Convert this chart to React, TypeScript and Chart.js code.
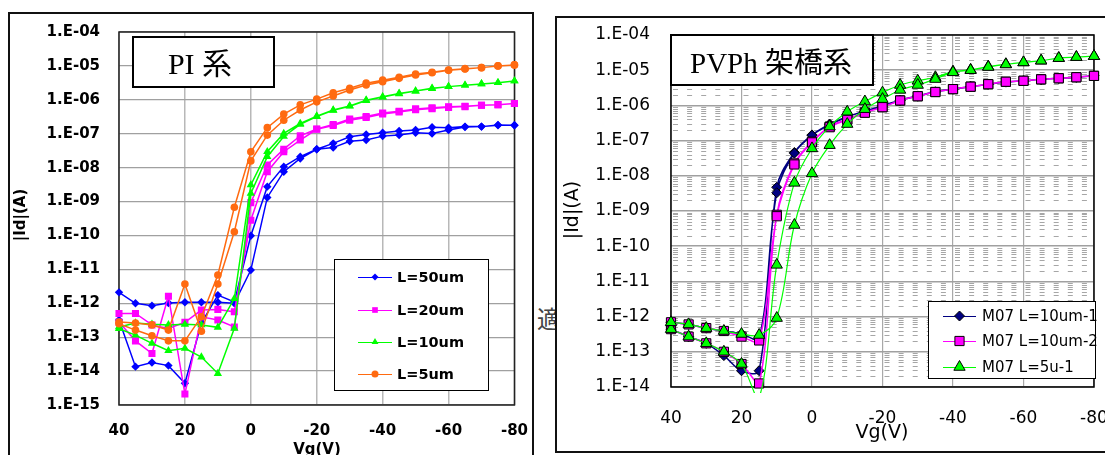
import React, { useEffect, useRef } from "react";
import { Chart, registerables } from "chart.js";

Chart.register(...registerables);

// ---------- shared gate-voltage sweep (V) ----------
const vgSweep = [40, 35, 30, 25, 20, 15, 10, 5, 0, -5, -10, -15, -20, -25, -30, -35, -40, -45, -50, -55, -60, -65, -70, -75, -80];
const xTickValues = [40, 20, 0, -20, -40, -60, -80];

// ---------- left chart: PI 系 ----------
const piTitle = "PI 系";
const piSeriesLabels = ["L=50um", "L=20um", "L=10um", "L=5um"];
const piYTicks = [1e-4, 1e-5, 1e-6, 1e-7, 1e-8, 1e-9, 1e-10, 1e-11, 1e-12, 1e-13, 1e-14, 1e-15];
const piYTickLabels = ["1.E-04", "1.E-05", "1.E-06", "1.E-07", "1.E-08", "1.E-09", "1.E-10", "1.E-11", "1.E-12", "1.E-13", "1.E-14", "1.E-15"];

// each series: sweep A (40 -> -80) and sweep B (back, listed 40 -> -80)
const pi50A = [2.1e-12, 1.0e-12, 8.5e-13, 1.02e-12, 1.07e-12, 1.07e-12, 1.07e-12, 1.0e-12, 9.5e-12, 1.32e-9, 7.6e-9, 1.86e-8, 3.47e-8, 3.9e-8, 6.0e-8, 6.5e-8, 8.5e-8, 9.1e-8, 1.07e-7, 1.02e-7, 1.29e-7, 1.58e-7, 1.62e-7, 1.78e-7, 1.78e-7];
const pi50B = [3.2e-13, 1.35e-14, 1.8e-14, 1.45e-14, 4.4e-15, 2.6e-13, 1.74e-12, 1.1e-12, 9.8e-11, 2.75e-9, 1.07e-8, 2.1e-8, 3.47e-8, 5.2e-8, 8.1e-8, 9.5e-8, 1.07e-7, 1.2e-7, 1.29e-7, 1.55e-7, 1.51e-7, 1.62e-7, 1.62e-7, 1.82e-7, 1.78e-7];
const pi20A = [5.0e-13, 5.0e-13, 2.3e-13, 1.8e-13, 2.75e-13, 6.3e-13, 6.6e-13, 5.6e-13, 2.8e-10, 7.6e-9, 2.95e-8, 6.5e-8, 1.35e-7, 1.74e-7, 2.5e-7, 3.0e-7, 3.8e-7, 4.4e-7, 5.1e-7, 5.5e-7, 6.0e-7, 6.3e-7, 6.9e-7, 7.2e-7, 7.8e-7];
const pi20B = [2.8e-13, 7.8e-14, 3.3e-14, 1.62e-12, 2.1e-15, 4.0e-13, 3.2e-13, 2.0e-13, 9.3e-10, 1.2e-8, 3.5e-8, 8.7e-8, 1.38e-7, 1.86e-7, 2.7e-7, 3.2e-7, 4.1e-7, 4.6e-7, 5.4e-7, 5.8e-7, 6.2e-7, 6.5e-7, 6.9e-7, 7.2e-7, 7.8e-7];
const pi10A = [2.0e-13, 2.6e-13, 2.4e-13, 2.3e-13, 2.4e-13, 2.3e-13, 1.95e-13, 1.38e-12, 3.1e-9, 2.95e-8, 1.02e-7, 2.0e-7, 3.3e-7, 5.0e-7, 6.6e-7, 9.8e-7, 1.23e-6, 1.55e-6, 1.82e-6, 2.2e-6, 2.45e-6, 2.7e-6, 2.95e-6, 3.2e-6, 3.6e-6];
const pi10B = [1.78e-13, 1.15e-13, 6.6e-14, 4.0e-14, 4.7e-14, 2.6e-14, 8.5e-15, 1.82e-13, 1.74e-9, 2.1e-8, 8.3e-8, 1.9e-7, 3.2e-7, 4.9e-7, 6.5e-7, 9.5e-7, 1.2e-6, 1.5e-6, 1.82e-6, 2.15e-6, 2.45e-6, 2.7e-6, 2.95e-6, 3.2e-6, 3.6e-6];
const pi5A = [2.8e-13, 2.6e-13, 2.3e-13, 1.62e-13, 3.7e-12, 1.5e-13, 3.7e-12, 1.29e-10, 1.58e-8, 9.1e-8, 2.5e-7, 5.0e-7, 8.7e-7, 1.29e-6, 1.95e-6, 2.75e-6, 3.4e-6, 4.3e-6, 5.4e-6, 6.3e-6, 7.4e-6, 8.1e-6, 8.9e-6, 1.0e-5, 1.07e-5];
const pi5B = [2.5e-13, 1.62e-13, 1.1e-13, 7.8e-14, 7.8e-14, 4.0e-13, 6.8e-12, 6.8e-10, 2.95e-8, 1.51e-7, 3.8e-7, 7.1e-7, 1.05e-6, 1.62e-6, 2.2e-6, 3.1e-6, 3.8e-6, 4.6e-6, 5.8e-6, 6.5e-6, 7.6e-6, 8.3e-6, 8.9e-6, 1.0e-5, 1.07e-5];

// ---------- right chart: PVPh 架橋系 ----------
const pvTitle = "PVPh 架橋系";
const pvSeriesLabels = ["M07 L=10um-1", "M07 L=10um-2", "M07 L=5u-1"];
const pvYTicks = [1e-4, 1e-5, 1e-6, 1e-7, 1e-8, 1e-9, 1e-10, 1e-11, 1e-12, 1e-13, 1e-14];
const pvYTickLabels = ["1.E-04", "1.E-05", "1.E-06", "1.E-07", "1.E-08", "1.E-09", "1.E-10", "1.E-11", "1.E-12", "1.E-13", "1.E-14"];

const pv10aA = [4.4e-13, 2.7e-13, 1.74e-13, 7.8e-14, 2.9e-14, 2.9e-14, 4.7e-9, 4.6e-8, 1.45e-7, 2.95e-7, 4.8e-7, 6.9e-7, 9.8e-7, 1.41e-6, 1.86e-6, 2.45e-6, 2.9e-6, 3.4e-6, 4.0e-6, 4.6e-6, 5.0e-6, 5.5e-6, 5.9e-6, 6.3e-6, 6.9e-6];
const pv10aB = [6.9e-13, 6.0e-13, 4.7e-13, 3.9e-13, 3.2e-13, 2.4e-13, 3.3e-9, 4.4e-8, 1.41e-7, 2.8e-7, 4.7e-7, 6.8e-7, 9.5e-7, 1.38e-6, 1.82e-6, 2.4e-6, 2.9e-6, 3.4e-6, 4.0e-6, 4.6e-6, 5.0e-6, 5.5e-6, 5.9e-6, 6.3e-6, 6.9e-6];
const pv10bA = [4.4e-13, 2.7e-13, 1.74e-13, 1.0e-13, 4.5e-14, 1.26e-14, 7.8e-10, 2.25e-8, 9.3e-8, 2.5e-7, 4.0e-7, 6.3e-7, 8.9e-7, 1.38e-6, 1.82e-6, 2.4e-6, 2.9e-6, 3.4e-6, 4.0e-6, 4.7e-6, 5.0e-6, 5.5e-6, 5.9e-6, 6.3e-6, 6.9e-6];
const pv10bB = [6.9e-13, 6.0e-13, 4.7e-13, 3.9e-13, 2.7e-13, 2.1e-13, 7.1e-10, 2.1e-8, 8.9e-8, 2.4e-7, 3.9e-7, 6.2e-7, 8.9e-7, 1.38e-6, 1.82e-6, 2.4e-6, 2.9e-6, 3.4e-6, 4.0e-6, 4.7e-6, 5.0e-6, 5.5e-6, 5.9e-6, 6.3e-6, 6.9e-6];
const pv5A = [4.4e-13, 2.7e-13, 1.74e-13, 1.0e-13, 4.5e-14, 5.0e-15, 2.95e-11, 6.3e-9, 6.0e-8, 2.5e-7, 6.6e-7, 1.29e-6, 2.3e-6, 3.8e-6, 5.0e-6, 6.3e-6, 9.1e-6, 1.02e-5, 1.26e-5, 1.48e-5, 1.66e-5, 1.86e-5, 2.2e-5, 2.35e-5, 2.5e-5];
const pv5B = [6.9e-13, 6.0e-13, 4.7e-13, 3.9e-13, 3.2e-13, 3.0e-13, 9.1e-13, 4.0e-10, 1.17e-8, 7.4e-8, 2.95e-7, 7.8e-7, 1.51e-6, 2.75e-6, 3.8e-6, 5.6e-6, 8.7e-6, 1.0e-5, 1.23e-5, 1.45e-5, 1.66e-5, 1.86e-5, 2.2e-5, 2.35e-5, 2.5e-5];

// ---------- helpers ----------
function loop(a: number[], b: number[]) {
  const fwd = vgSweep.map((x, i) => ({ x, y: a[i] }));
  const back = vgSweep.map((x, i) => ({ x, y: b[i] })).reverse();
  return fwd.concat(back);
}

function markerPath(ctx: CanvasRenderingContext2D, style: string, x: number, y: number, r: number) {
  ctx.beginPath();
  if (style === "circle") {
    ctx.arc(x, y, r, 0, Math.PI * 2);
  } else if (style === "rect") {
    const s = r * Math.SQRT1_2;
    ctx.rect(x - s, y - s, 2 * s, 2 * s);
  } else if (style === "rectRot") {
    ctx.moveTo(x, y - r);
    ctx.lineTo(x + r, y);
    ctx.lineTo(x, y + r);
    ctx.lineTo(x - r, y);
    ctx.closePath();
  } else if (style === "triangle") {
    let rad = 0;
    ctx.moveTo(x + Math.sin(rad) * r, y - Math.cos(rad) * r);
    rad += (2 * Math.PI) / 3;
    ctx.lineTo(x + Math.sin(rad) * r, y - Math.cos(rad) * r);
    rad += (2 * Math.PI) / 3;
    ctx.lineTo(x + Math.sin(rad) * r, y - Math.cos(rad) * r);
    ctx.closePath();
  }
}

type DecorCfg = {
  id: string;
  minorGrid: boolean;
  title: string;
  titleFont: string;
  titleBox: [number, number, number, number];
  titleX: number;
  titleY: number;
  legendBox: [number, number, number, number];
  legendLineX: [number, number];
  legendTextX: number;
  legendRows: number[];
  legendFont: string;
  legendMarker: number[];
  yTitle: string;
  yTitlePos: [number, number];
  xTitle: string;
  xTitlePos: [number, number];
  axisTitleFont: string;
  frameColor: string;
};

function makeDecor(c: DecorCfg) {
  return {
    id: c.id,
    beforeDatasetsDraw(chart: any) {
      const ctx: CanvasRenderingContext2D = chart.ctx;
      const a = chart.chartArea;
      ctx.save();
      if (c.minorGrid) {
        const ys = chart.scales.y;
        const xs = chart.scales.x;
        const cuts = xTickValues.map((v) => xs.getPixelForValue(v)).sort((p, q) => p - q);
        ctx.strokeStyle = "#a6a6a6";
        ctx.lineWidth = 1;
        ctx.setLineDash([5, 9.1]);
        for (let e = -14; e < -4; e++) {
          for (let m = 2; m <= 9; m++) {
            const y = Math.round(ys.getPixelForValue(m * Math.pow(10, e))) + 0.5;
            for (let k = 0; k < cuts.length - 1; k++) {
              ctx.beginPath();
              ctx.moveTo(cuts[k] + 2, y);
              ctx.lineTo(cuts[k + 1] - 1, y);
              ctx.stroke();
            }
          }
        }
        ctx.setLineDash([]);
      }
      ctx.strokeStyle = c.frameColor;
      ctx.lineWidth = 1.5;
      ctx.strokeRect(a.left, a.top, a.right - a.left, a.bottom - a.top);
      ctx.restore();
    },
    afterDatasetsDraw(chart: any) {
      const ctx: CanvasRenderingContext2D = chart.ctx;
      ctx.save();
      // title box
      const [tx, ty, tw, th] = c.titleBox;
      ctx.fillStyle = "#ffffff";
      ctx.fillRect(tx, ty, tw, th);
      ctx.strokeStyle = "#000000";
      ctx.lineWidth = 2;
      ctx.strokeRect(tx, ty, tw, th);
      ctx.fillStyle = "#000000";
      ctx.font = c.titleFont;
      ctx.textAlign = "center";
      ctx.textBaseline = "alphabetic";
      ctx.fillText(c.title, c.titleX, c.titleY);

      // legend
      const [lx, ly, lw, lh] = c.legendBox;
      ctx.fillStyle = "#ffffff";
      ctx.fillRect(lx, ly, lw, lh);
      ctx.strokeStyle = "#000000";
      ctx.lineWidth = 1;
      ctx.strokeRect(lx + 0.5, ly + 0.5, lw, lh);
      chart.data.datasets.forEach((ds: any, i: number) => {
        const y = c.legendRows[i];
        ctx.strokeStyle = ds.borderColor;
        ctx.lineWidth = 1;
        ctx.beginPath();
        ctx.moveTo(c.legendLineX[0], y + 0.5);
        ctx.lineTo(c.legendLineX[1], y + 0.5);
        ctx.stroke();
        const mx = (c.legendLineX[0] + c.legendLineX[1]) / 2;
        markerPath(ctx, ds.pointStyle, mx, y, c.legendMarker[i]);
        ctx.fillStyle = ds.backgroundColor;
        ctx.fill();
        if (ds.pointBorderWidth > 0) {
          ctx.lineWidth = ds.pointBorderWidth;
          ctx.strokeStyle = ds.pointBorderColor;
          ctx.stroke();
        }
        ctx.fillStyle = "#000000";
        ctx.font = c.legendFont;
        ctx.textAlign = "left";
        ctx.textBaseline = "middle";
        ctx.fillText(ds.label, c.legendTextX, y + 1);
      });

      // axis titles
      ctx.fillStyle = "#000000";
      ctx.font = c.axisTitleFont;
      ctx.save();
      ctx.translate(c.yTitlePos[0], c.yTitlePos[1]);
      ctx.rotate(-Math.PI / 2);
      ctx.textAlign = "center";
      ctx.textBaseline = "middle";
      ctx.fillText(c.yTitle, 0, 0);
      ctx.restore();
      ctx.textAlign = "center";
      ctx.textBaseline = "alphabetic";
      ctx.fillText(c.xTitle, c.xTitlePos[0], c.xTitlePos[1]);
      ctx.restore();
    },
  };
}

const clipBox = { left: 10, top: 10, right: 10, bottom: 6 };

function leftConfig(): any {
  const common = { borderWidth: 1.5, tension: 0, pointBorderWidth: 0, pointBorderColor: "transparent", clip: clipBox };
  return {
    type: "line",
    data: {
      datasets: [
        { ...common, label: piSeriesLabels[0], data: loop(pi50A, pi50B), borderColor: "#0000FF", backgroundColor: "#0000FF", pointStyle: "rectRot", pointRadius: 4.2, order: 4 },
        { ...common, label: piSeriesLabels[1], data: loop(pi20A, pi20B), borderColor: "#FF00FF", backgroundColor: "#FF00FF", pointStyle: "rect", pointRadius: 5, order: 3 },
        { ...common, label: piSeriesLabels[2], data: loop(pi10A, pi10B), borderColor: "#00FF00", backgroundColor: "#00FF00", pointStyle: "triangle", pointRadius: 4.8, order: 2 },
        { ...common, label: piSeriesLabels[3], data: loop(pi5A, pi5B), borderColor: "#FF6A10", backgroundColor: "#FF6A10", pointStyle: "circle", pointRadius: 3.8, order: 1 },
      ],
    },
    options: {
      responsive: false,
      animation: false,
      layout: { padding: { left: 0, top: 32, right: 29, bottom: 0 } },
      plugins: { legend: { display: false }, tooltip: { enabled: false } },
      scales: {
        x: {
          type: "linear",
          reverse: true,
          min: -80,
          max: 40,
          afterBuildTicks: (s: any) => { s.ticks = xTickValues.map((v) => ({ value: v })); },
          afterFit: (s: any) => { s.height = 50; },
          ticks: { autoSkip: false, maxRotation: 0, padding: 17, color: "#000", font: { family: "DejaVu Sans", weight: "bold", size: 15 }, callback: (v: any) => String(v) },
          grid: { color: "#b8b8b8", lineWidth: 1.5, drawTicks: false },
          border: { display: false },
        },
        y: {
          type: "logarithmic",
          min: 1e-15,
          max: 1e-4,
          afterBuildTicks: (s: any) => { s.ticks = piYTicks.map((v) => ({ value: v })); },
          afterFit: (s: any) => { s.width = 119; },
          ticks: { autoSkip: false, padding: 19, color: "#000", font: { family: "DejaVu Sans", weight: "bold", size: 15 }, callback: (_v: any, i: number) => piYTickLabels[i] },
          grid: { color: "#a0a0a0", lineWidth: 1.2, drawTicks: false },
          border: { display: false },
        },
      },
    },
    plugins: [
      makeDecor({
        id: "piDecor",
        minorGrid: false,
        title: piTitle,
        titleFont: '30px "Liberation Serif", "Noto Sans CJK JP"',
        titleBox: [133, 37, 141, 50],
        titleX: 200,
        titleY: 74,
        legendBox: [334, 259, 154, 131],
        legendLineX: [358, 392],
        legendTextX: 397,
        legendRows: [277, 310, 342, 374],
        legendFont: 'bold 14.5px "DejaVu Sans"',
        legendMarker: [3.5, 4, 4, 3.5],
        yTitle: "|Id|(A)",
        yTitlePos: [21, 215],
        xTitle: "Vg(V)",
        xTitlePos: [317, 454],
        axisTitleFont: 'bold 15px "DejaVu Sans"',
        frameColor: "#222222",
      }),
    ],
  };
}

function rightConfig(): any {
  const common = { tension: 0.35, pointBorderWidth: 1, pointBorderColor: "#000000", clip: clipBox };
  return {
    type: "line",
    data: {
      datasets: [
        { ...common, label: pvSeriesLabels[0], data: loop(pv10aA, pv10aB), borderColor: "#000080", backgroundColor: "#000080", borderWidth: 1.5, pointStyle: "rectRot", pointRadius: 5, order: 3 },
        { ...common, label: pvSeriesLabels[1], data: loop(pv10bA, pv10bB), borderColor: "#FF00FF", backgroundColor: "#FF00FF", borderWidth: 1.5, pointStyle: "rect", pointRadius: 6.5, order: 2 },
        { ...common, label: pvSeriesLabels[2], data: loop(pv5A, pv5B), borderColor: "#00FF00", backgroundColor: "#00FF00", borderWidth: 1.2, pointStyle: "triangle", pointRadius: 6.5, order: 1 },
      ],
    },
    options: {
      responsive: false,
      animation: false,
      layout: { padding: { left: 0, top: 35, right: 46, bottom: 0 } },
      plugins: { legend: { display: false }, tooltip: { enabled: false } },
      scales: {
        x: {
          type: "linear",
          reverse: true,
          min: -80,
          max: 40,
          afterBuildTicks: (s: any) => { s.ticks = xTickValues.map((v) => ({ value: v })); },
          afterFit: (s: any) => { s.height = 68; },
          ticks: { autoSkip: false, maxRotation: 0, padding: 21, color: "#000", font: { family: "DejaVu Sans", size: 17 }, callback: (v: any) => String(v) },
          grid: { color: "#a8a8a8", lineWidth: 1.2, drawTicks: false },
          border: { display: false },
        },
        y: {
          type: "logarithmic",
          min: 1e-14,
          max: 1e-4,
          afterBuildTicks: (s: any) => { s.ticks = pvYTicks.map((v) => ({ value: v })); },
          afterFit: (s: any) => { s.width = 131; },
          ticks: { autoSkip: false, padding: 21, color: "#000", font: { family: "DejaVu Sans", size: 17 }, callback: (_v: any, i: number) => pvYTickLabels[i] },
          grid: { color: "#a0a0a0", lineWidth: 1.5, drawTicks: false },
          border: { display: false },
        },
      },
    },
    plugins: [
      makeDecor({
        id: "pvDecor",
        minorGrid: true,
        title: pvTitle,
        titleFont: '29px "Liberation Serif", "Noto Sans CJK JP"',
        titleBox: [131, 35, 202, 50],
        titleX: 231,
        titleY: 73,
        legendBox: [388, 301, 167, 77],
        legendLineX: [403, 436],
        legendTextX: 442,
        legendRows: [316, 341, 367],
        legendFont: '15px "DejaVu Sans"',
        legendMarker: [5, 6.5, 6.5],
        yTitle: "|Id|(A)",
        yTitlePos: [33, 210],
        xTitle: "Vg(V)",
        xTitlePos: [342, 438],
        axisTitleFont: '19px "DejaVu Sans"',
        frameColor: "#000000",
      }),
    ],
  };
}

export default function App() {
  const leftRef = useRef<HTMLCanvasElement>(null);
  const rightRef = useRef<HTMLCanvasElement>(null);

  useEffect(() => {
    const c1 = new Chart(leftRef.current as HTMLCanvasElement, leftConfig());
    const c2 = new Chart(rightRef.current as HTMLCanvasElement, rightConfig());
    return () => {
      c1.destroy();
      c2.destroy();
    };
  }, []);

  return (
    <div style={{ position: "fixed", left: 0, top: 0, width: 1105, height: 455, overflow: "hidden", background: "#ffffff" }}>
      <div style={{ position: "absolute", left: 8, top: 12, width: 526, height: 470, border: "2px solid #111", boxSizing: "border-box" }} />
      <span style={{ position: "absolute", left: 537, top: 303, fontSize: 24, lineHeight: "30px", color: "#444", fontFamily: '"Noto Sans CJK JP"' }}>適</span>
      <div style={{ position: "absolute", left: 555, top: 16, width: 600, height: 437, border: "2px solid #111", boxSizing: "border-box", background: "#ffffff" }} />
      <canvas ref={leftRef} width={545} height={455} style={{ position: "absolute", left: 0, top: 0, width: 545, height: 455 }} />
      <canvas ref={rightRef} width={600} height={455} style={{ position: "absolute", left: 540, top: 0, width: 600, height: 455 }} />
    </div>
  );
}
